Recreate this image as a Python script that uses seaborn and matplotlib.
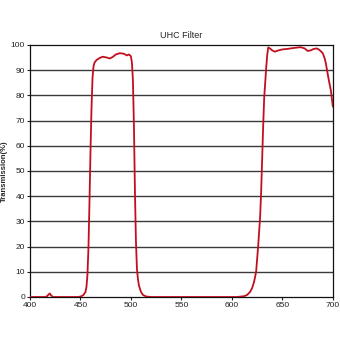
import matplotlib
matplotlib.use("Agg")
import matplotlib.pyplot as plt
import seaborn as sns
import pandas as pd

wavelength = [400, 410, 415, 417, 418.5, 419.7, 421, 423, 430, 440, 448, 451, 453, 455, 456, 457, 458, 459, 460, 461, 462, 463, 464,
              466, 469, 472, 476, 479, 482, 485, 489, 493, 496, 498, 500, 501, 502, 503, 504, 505, 506, 507, 508, 510, 512, 515, 520,
              540, 580, 605, 612, 615, 618, 620, 622, 624, 626, 628, 629, 630, 631, 632, 633, 634, 635, 636, 638, 640, 642.5, 646,
              650, 655, 660, 664, 668, 672, 675, 678, 681, 684, 686, 688, 690, 692, 693, 694, 696, 698, 700]
transmission = [0, 0, 0, 0.3, 1.0, 1.4, 0.6, 0, 0, 0, 0, 0.3, 0.8, 2, 4, 9, 20, 38, 58, 75, 87, 91.5, 93,
                94, 94.8, 95.3, 95, 94.6, 95.2, 96.2, 96.7, 96.5, 95.8, 96.2, 95.5, 93, 86, 68, 42, 22, 11, 7, 4.5, 2, 0.8, 0.2, 0,
                0, 0, 0, 0.3, 0.8, 2, 3.5, 6, 10, 20, 32, 42, 55, 68, 79, 85, 91, 96, 99, 98.5, 97.8, 97.3, 97.8,
                98.2, 98.4, 98.7, 98.9, 99.1, 98.6, 97.6, 97.8, 98.4, 98.6, 98.2, 97.5, 96.7, 94.5, 92.8, 90.5, 86, 82, 75.5]

xticks = [400, 450, 500, 550, 600, 650, 700]
yticks = [0, 10, 20, 30, 40, 50, 60, 70, 80, 90, 100]

df = pd.DataFrame({"Wavelength": wavelength, "Transmission": transmission})

sns.set_style("white")
plt.rcParams['font.family'] = ['Liberation Sans', 'DejaVu Sans']

fig = plt.figure(figsize=(3.4, 3.4), dpi=100)
ax = fig.add_axes([0.088, 0.1265, 0.891, 0.7415])
for yv in yticks[1:-1]:
    ax.axhline(yv, color="#3a3a3a", lw=1.0, zorder=1)
sns.lineplot(data=df, x="Wavelength", y="Transmission", ax=ax, color="#c0101e", lw=1.3, zorder=3)
ax.set_xlim(400, 700)
ax.set_ylim(0, 100)
ax.set_xticks(xticks)
ax.set_yticks(yticks)
ax.tick_params(axis="both", labelsize=6, length=2, width=0.8, pad=1.5, direction="out", colors="#222222")
ax.tick_params(axis="both", bottom=True, left=True)
for s in ax.spines.values():
    s.set_color("#111111")
    s.set_linewidth(0.9)
ax.set_xlabel("")
ax.set_ylabel("Transmission(%)", fontsize=5.5, fontweight="bold")
ax.yaxis.set_label_coords(-0.072, 0.5)
ax.set_title("UHC Filter", fontsize=6.5, pad=5)
fig.savefig("out.png", dpi=100, facecolor="white")
